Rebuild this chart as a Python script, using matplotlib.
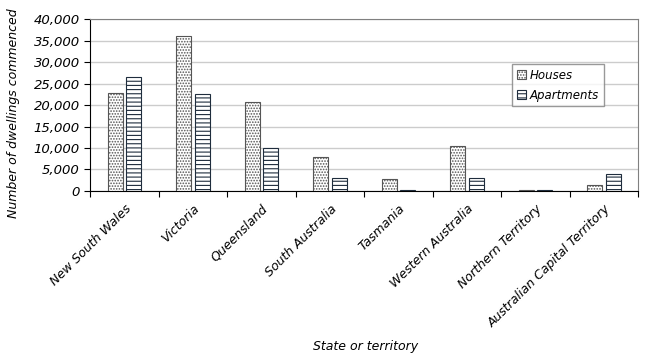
import matplotlib
matplotlib.use("Agg")
import matplotlib.pyplot as plt
import numpy as np

categories = ["New South Wales", "Victoria", "Queensland", "South Australia",
              "Tasmania", "Western Australia", "Northern Territory",
              "Australian Capital Territory"]
houses = [22700, 36000, 20700, 7900, 2700, 10500, 300, 1400]
apartments = [26500, 22500, 10000, 3000, 300, 3000, 300, 3950]
yticks = [0, 5000, 10000, 15000, 20000, 25000, 30000, 35000, 40000]

plt.rcParams['font.family'] = ['DejaVu Sans']
plt.rcParams['hatch.linewidth'] = 0.8

fig = plt.figure(figsize=(6.58, 3.61), dpi=100)
ax = fig.add_axes([0.137, 0.471, 0.833, 0.476])

x = np.arange(len(categories))
w = 0.22
gap = 0.05
b1 = ax.bar(x - w/2 - gap/2, houses, width=w, facecolor='white', edgecolor='#555555',
            hatch='......', linewidth=0.8, label='Houses', zorder=3)
b2 = ax.bar(x + w/2 + gap/2, apartments, width=w, facecolor='white', edgecolor='#1f2d3d',
            hatch='----', linewidth=0.8, label='Apartments', zorder=3)

ax.set_xlim(-0.5, len(categories) - 0.5)
ax.set_ylim(0, 40000)
ax.set_yticks(yticks)
ax.set_yticklabels([f"{v:,}" for v in yticks], fontsize=9.5, fontstyle='italic')
ax.yaxis.grid(True, color='#cccccc', linewidth=1, zorder=0)
ax.set_xticks(np.arange(len(categories) + 1) - 0.5)
ax.set_xticklabels([])
ax.set_xticks(x, minor=True)
ax.set_xticklabels(categories, minor=True, rotation=45, ha='right', va='top',
                   rotation_mode='anchor', fontsize=9, fontstyle='italic')
ax.tick_params(axis='x', which='minor', length=0, pad=8)
ax.tick_params(axis='x', which='major', length=4, direction='out', color='black')
ax.tick_params(axis='y', length=4, direction='out', color='black')

for s in ['top', 'right']:
    ax.spines[s].set_color('#808080')
ax.spines['left'].set_color('black')
ax.spines['bottom'].set_color('black')

ax.set_ylabel("Number of dwellings commenced", fontsize=9, fontstyle='italic')
ax.yaxis.set_label_coords(-0.128, 0.45)
fig.text(0.555, 0.03, "State or territory", ha='center', fontsize=9, fontstyle='italic')

leg = ax.legend(loc='upper left', bbox_to_anchor=(0.77, 0.74), frameon=True,
                fancybox=False, edgecolor='#808080', fontsize=8.5,
                handlelength=0.8, handleheight=0.8, handletextpad=0.3,
                borderpad=0.4, labelspacing=0.6, borderaxespad=0)
for t in leg.get_texts():
    t.set_fontstyle('italic')
leg.get_frame().set_linewidth(1)

fig.savefig("out.png", dpi=100)
